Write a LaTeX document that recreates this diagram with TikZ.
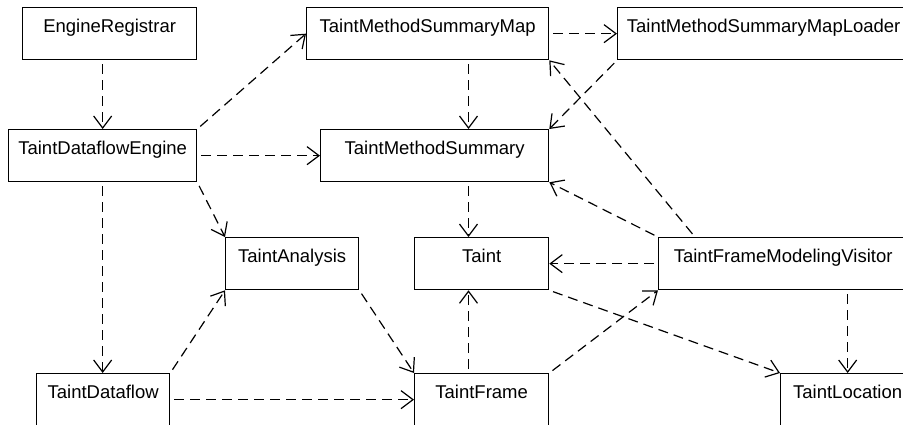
\documentclass[tikz,border=0pt]{standalone}
\usepackage{fontspec}
\setmainfont{Liberation Sans}
\usepackage{tikz}
\usetikzlibrary{arrows.meta}

\tikzset{
    cls/.style={draw, rectangle, line width=1.3pt, inner xsep=8pt, inner ysep=0pt,
        text height=25pt, text depth=27pt, anchor=north west,
        font=\fontsize{18.5}{22}\selectfont},
    dep/.style={line width=1.2pt, dash pattern=on 10pt off 6pt, shorten <=4pt,
        -{Straight Barb[length=12pt,width=18pt,line width=1.2pt]}}
}

\begin{document}
\begin{tikzpicture}[x=1pt,y=-1pt]
    \useasboundingbox (0,0) rectangle (903,424);
    \clip (0,0) rectangle (903,424);% boxes run off the right edge
    % the classes
    \node[cls, minimum width=174pt] (reg) at (22,7) {EngineRegistrar};
    \node[cls, minimum width=188pt] (eng) at (8,129) {TaintDataflowEngine};
    \node[cls, minimum width=242pt] (tmsm) at (306,7) {TaintMethodSummaryMap};
    \node[cls, minimum width=228pt] (tms) at (320,129) {TaintMethodSummary};
    \node[cls, minimum width=292pt] (loader) at (617,7) {TaintMethodSummaryMapLoader};
    \node[cls, minimum width=133pt] (ana) at (225,237) {TaintAnalysis};
    \node[cls, minimum width=134pt] (taint) at (414,237) {Taint};
    \node[cls, minimum width=249pt] (visitor) at (658,237) {TaintFrameModelingVisitor};
    \node[cls, minimum width=133pt] (df) at (36,373) {TaintDataflow};
    \node[cls, minimum width=134pt] (frame) at (414,373) {TaintFrame};
    \node[cls, minimum width=134pt] (loc) at (780,373) {TaintLocation};
    \coordinate (midcol) at (468.5,0);% column of the middle arrows
    % the dependencies
    \draw[dep] (reg.south -| eng.north) -- (eng.north);
    \draw[dep] (eng.north east) -- (tmsm.west);
    \draw[dep] (eng) -- (tms);
    \draw[dep] (eng.south east) -- (ana.north west);
    \draw[dep] (eng.south) -- (df.north -| eng.south);
    \draw[dep] (tmsm) -- (loader);
    \draw[dep] (tmsm.south -| midcol) -- (tms.north -| midcol);
    \draw[dep] (loader.south west) -- (tms.north east);
    \draw[dep] ([xshift=37pt]visitor.north west) -- (tmsm.south east);
    \draw[dep] (visitor.north west) -- (tms.south east);
    \draw[dep] (visitor) -- (taint);
    \draw[dep] (visitor.south -| loc.north) -- (loc.north);
    \draw[dep] (tms.south -| midcol) -- (taint.north -| midcol);
    \draw[dep] (taint.south east) -- (loc.north west);
    \draw[dep] (frame.north -| midcol) -- (taint.south -| midcol);
    \draw[dep] (frame.north east) -- (visitor.south west);
    \draw[dep] (ana.south east) -- (frame.north west);
    \draw[dep] (df.north east) -- (ana.south west);
    \draw[dep] (df) -- (frame);
\end{tikzpicture}
\end{document}
